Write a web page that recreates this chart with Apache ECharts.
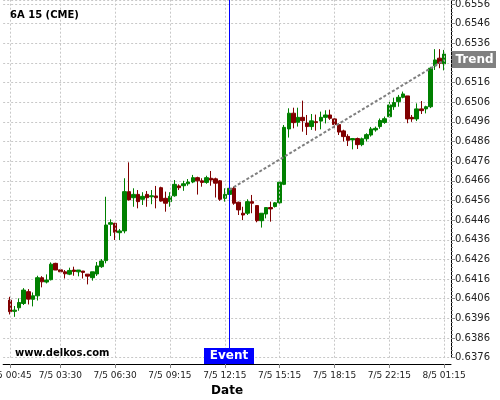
<!DOCTYPE html>
<html><head><meta charset="utf-8">
<script src="https://cdn.jsdelivr.net/npm/echarts@6/dist/echarts.min.js"></script>
<style>html,body{margin:0;padding:0;background:#fff}#c{width:500px;height:400px}</style>
</head><body><div id="c"></div>
<script>
const opens = [
.64053,.63996,.64014,.64036,.64096,.64057,.64075,.64167,.64145,.64157,
.64240,.64207,.64197,.64185,.64206,.64197,.64201,.64185,.64167,.64186,
.64223,.64254,.64439,.64444,.64396,.64405,.64605,.64574,.64591,.64566,
.64591,.64579,.64583,.64625,.64571,.64554,.64584,.64634,.64635,.64645,
.64654,.64676,.64660,.64652,.64673,.64670,.64660,.64571,.64591,.64622,
.64551,.64495,.64495,.64554,.64534,.64457,.64491,.64524,.64529,.64548,
.64642,.64924,.65004,.64958,.64983,.64954,.64936,.64961,.64964,.64983,
.64995,.64975,.64946,.64914,.64886,.64868,.64875,.64844,.64874,.64893,
.64919,.64936,.64957,.64986,.65037,.65063,.65085,.65092,.64983,.64975,
.65026,.65026,.65037,.65245,.65284,.65255];
const closes = [
.63994,.64002,.64041,.64104,.64058,.64075,.64167,.64146,.64155,.64236,
.64206,.64197,.64187,.64204,.64199,.64206,.64194,.64175,.64197,.64227,
.64252,.64435,.64447,.64398,.64405,.64605,.64563,.64591,.64554,.64581,
.64574,.64584,.64574,.64557,.64546,.64581,.64642,.64625,.64645,.64654,
.64676,.64660,.64652,.64676,.64664,.64648,.64566,.64591,.64622,.64546,
.64512,.64486,.64554,.64546,.64457,.64495,.64524,.64517,.64548,.64653,
.64932,.65004,.64956,.64983,.64966,.64936,.64965,.64956,.64983,.64995,
.64978,.64946,.64908,.64885,.64866,.64875,.64844,.64874,.64895,.64924,
.64927,.64967,.64976,.65046,.65058,.65085,.65102,.64975,.64975,.65026,
.65017,.65037,.65233,.65275,.65258,.65305];
const lows = [
.63980,.63968,.63999,.64028,.64031,.64021,.64051,.64118,.64138,.64153,
.64206,.64194,.64163,.64180,.64177,.64174,.64163,.64133,.64152,.64176,
.64217,.64240,.64379,.64359,.64359,.64393,.64560,.64528,.64520,.64537,
.64528,.64541,.64520,.64554,.64503,.64528,.64579,.64613,.64609,.64635,
.64648,.64590,.64630,.64645,.64635,.64575,.64558,.64554,.64588,.64538,
.64486,.64460,.64486,.64495,.64449,.64422,.64469,.64452,.64524,.64540,
.64638,.64880,.64927,.64936,.64910,.64893,.64919,.64915,.64922,.64952,
.64970,.64927,.64893,.64860,.64837,.64820,.64822,.64836,.64860,.64885,
.64910,.64925,.64950,.64980,.65021,.65037,.65080,.64953,.64960,.64964,
.65000,.65003,.65030,.65224,.65233,.65222];
const highs = [
.64070,.64023,.64062,.64114,.64109,.64092,.64177,.64175,.64184,.64245,
.64243,.64212,.64206,.64218,.64223,.64206,.64201,.64185,.64197,.64247,
.64262,.64579,.64464,.64446,.64415,.64673,.64754,.64622,.64613,.64602,
.64608,.64613,.64634,.64630,.64605,.64602,.64664,.64642,.64660,.64669,
.64690,.64681,.64673,.64686,.64710,.64676,.64664,.64622,.64630,.64630,
.64554,.64528,.64566,.64588,.64534,.64495,.64524,.64554,.64552,.64660,
.64944,.65029,.65032,.65032,.65068,.64995,.65000,.64997,.65012,.65019,
.65022,.64978,.64953,.64920,.64897,.64878,.64880,.64880,.64902,.64934,
.64936,.64977,.64987,.65063,.65083,.65097,.65114,.65092,.64995,.65054,
.65066,.65042,.65240,.65330,.65330,.65326];
const tickIndex = [0, 11, 23, 35, 47, 59, 71, 83, 95];
const tickLabels = ['7/5 00:45','7/5 03:30','7/5 06:30','7/5 09:15','7/5 12:15','7/5 15:15','7/5 18:15','7/5 22:15','8/5 01:15'];
const eventIndex = 48;
const trendIndex = [48, 95];
const trendValues = [0.64614, 0.65274];
const yMin = 0.6376, yMax = 0.6558, yStep = 0.001;

const PAD = 1;
const N = opens.length;
const cats = Array.from({length: N + 2 * PAD}, (_, i) => String(i - PAD));
const labelAt = {};
tickIndex.forEach((t, k) => { labelAt[t + PAD] = tickLabels[k]; });
const showAt = (i) => labelAt[i] !== undefined;
const candles = opens.map((o, i) => [i + PAD, o, closes[i], lows[i], highs[i]]);

const chart = echarts.init(document.getElementById('c'), null, {renderer: 'canvas'});
const FONT = 'DejaVu Sans';
chart.setOption({
  animation: false,
  backgroundColor: '#ffffff',
  textStyle: {fontFamily: FONT},
  grid: {left: 3.15, right: 49, top: 0, bottom: 42.3, containLabel: false, outerBoundsMode: 'none'},
  xAxis: {
    type: 'category', data: cats, boundaryGap: true, offset: 6.3,
    axisLine: {show: true, lineStyle: {color: '#000', width: 1}},
    axisTick: {show: true, alignWithLabel: true, interval: (i) => showAt(i), length: 4, lineStyle: {color: '#888'}},
    axisLabel: {interval: (i) => showAt(i), formatter: (v, i) => labelAt[i] || '', fontSize: 9, color: '#222', margin: 7, fontFamily: FONT},
    splitLine: {show: false},
    name: 'Date', nameLocation: 'middle', nameGap: 19,
    nameTextStyle: {fontSize: 12, fontWeight: 'bold', color: '#000', fontFamily: FONT}
  },
  yAxis: {
    type: 'value', position: 'right', min: yMin, max: yMax, interval: yStep, scale: true,
    axisLine: {show: true, lineStyle: {color: '#000', width: 1}},
    axisTick: {show: true, length: 4, lineStyle: {color: '#888'}},
    minorTick: {show: true, splitNumber: 5, length: 2, lineStyle: {color: '#888'}},
    axisLabel: {formatter: (v) => v.toFixed(4), fontSize: 10, color: '#222', margin: 4, showMaxLabel: false, fontFamily: FONT},
    splitLine: {show: true, lineStyle: {color: '#c8c8c8', type: [2, 2], width: 1}}
  },
  series: [
    {
      type: 'line', data: [], silent: true, z: 1,
      markLine: {
        silent: true, symbol: ['none', 'none'], label: {show: false}, animation: false,
        lineStyle: {color: '#c8c8c8', type: [2, 2], width: 1},
        data: tickIndex.map(t => ({xAxis: t + PAD}))
      }
    },
    {
      type: 'candlestick', data: candles, encode: {x: 0, y: [1, 2, 3, 4]}, z: 3,
      barWidth: 4,
      itemStyle: {color: '#008000', color0: '#800000', borderColor: '#008000', borderColor0: '#800000', borderWidth: 1}
    },
    {
      type: 'line', data: [], silent: true, z: 4,
      markLine: {
        silent: true, symbol: ['none', 'none'], label: {show: false}, animation: false,
        lineStyle: {color: '#0000ff', type: 'solid', width: 1},
        data: [{xAxis: eventIndex + PAD}]
      }
    },
    {
      type: 'line', z: 5, silent: true, symbol: 'none',
      data: trendIndex.map((t, k) => [t + PAD, trendValues[k]]),
      lineStyle: {color: '#808080', width: 2, type: [3, 2]}
    }
  ],
  graphic: [
    {type: 'text', left: 10, top: 10, z: 100, style: {text: '6A 15 (CME)', font: 'bold 10px "DejaVu Sans"', fill: '#000'}},
    {type: 'text', left: 15, top: 348, z: 100, style: {text: 'www.delkos.com', font: 'bold 10px "DejaVu Sans"', fill: '#000'}},
    {type: 'rect', z: 100, shape: {x: 204, y: 348, width: 50, height: 16}, style: {fill: '#0000ff'}},
    {type: 'text', z: 101, x: 229, y: 356, style: {text: 'Event', font: 'bold 12px "DejaVu Sans"', fill: '#fff', align: 'center', verticalAlign: 'middle'}},
    {type: 'rect', z: 100, shape: {x: 452, y: 51, width: 44, height: 17}, style: {fill: '#808080'}},
    {type: 'text', z: 101, x: 455.5, y: 59.5, style: {text: 'Trend', font: 'bold 12px "DejaVu Sans"', fill: '#fff', align: 'left', verticalAlign: 'middle'}}
  ]
});
</script>
</body></html>
